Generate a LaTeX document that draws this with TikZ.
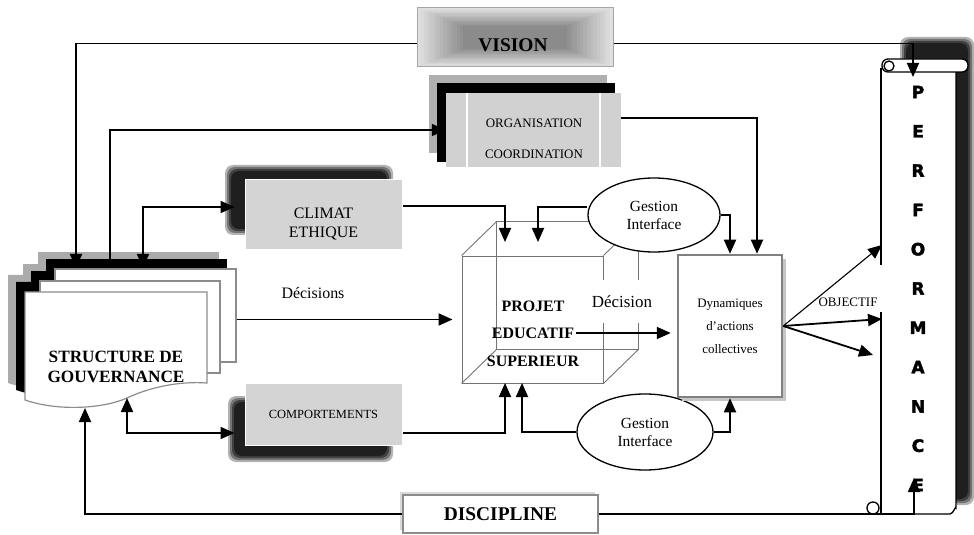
\documentclass[tikz,border=0pt]{standalone}
\usepackage{fontspec}
\setmainfont{Liberation Serif}
\newfontfamily\perffont[FakeBold=2.5]{DejaVu Sans}
\usetikzlibrary{arrows.meta,shapes.geometric,calc}

\tikzset{
  arr/.style={line width=1.8bp,-{Triangle[length=14bp,width=12bp]}},
  darr/.style={line width=1.8bp,{Triangle[length=14bp,width=12bp]}-{Triangle[length=14bp,width=12bp]}},
  thinarr/.style={line width=1.1bp,-{Triangle[length=14bp,width=12bp]}},
  graybox/.style={rectangle,fill=black!17,draw=white,line width=1bp,inner sep=0pt},
  edgecube/.style={draw=black!55,line width=0.9bp},
  docpage/.style={fill=white,draw=black!45,line width=1.2bp},
  gestion/.style={ellipse,draw=black,line width=1.3bp,fill=white,align=center,
    font=\fontsize{15.5}{18}\selectfont,inner sep=0pt},
  perfletter/.style={font=\perffont\bfseries\fontsize{17}{17}\selectfont,inner sep=0pt},
}

% soft black shadow behind a box
\newcommand{\softshadow}[2]{%
  \foreach \o/\c in {0/30,2/55,4/75,6/88}
    \fill[black!\c,rounded corners=8bp] ($#1+(\o,\o)$) rectangle ($#2+(-\o,-\o)$);
}

\begin{document}
\begin{tikzpicture}[x=1bp,y=-1bp]
  \useasboundingbox (0,0) rectangle (974,535);

  % vision
  \foreach \i [evaluate=\i as \c using 12+2.4*\i] in {0,...,14}
    \fill[black!\c] ({417+3.3*\i},{8+1.3*\i}) rectangle ({613-3.3*\i},{67-1.3*\i});
  \node[draw=black!35,line width=1bp,minimum width=196bp,minimum height=59bp] (vision) at (515,37.5) {};
  \node[font=\bfseries\fontsize{19.5}{20}\selectfont] (visiontxt) at (513,45) {VISION};

  % organisation / coordination
  \fill[black!31] (429,75) rectangle (607,153);
  \fill[black] (437,83) rectangle (615,162);
  \node[rectangle,fill=black!18,minimum width=175bp,minimum height=74bp,inner sep=0pt] (org) at (533.5,130) {};
  \draw[white,line width=1.5bp] (467,93) -- (467,167) (600,93) -- (600,167);
  \node[align=center,font=\fontsize{13}{31}\selectfont] (orgtxt) at (534,139) {ORGANISATION\\COORDINATION};

  % climat / comportements
  \softshadow{(225,165)}{(393,235)}
  \node[graybox,minimum width=157bp,minimum height=70bp] (climat) at (323.5,215) {};
  \node[align=center,font=\fontsize{16}{19}\selectfont] (climattxt) at (323.5,224) {CLIMAT\\ETHIQUE};
  \softshadow{(228,396)}{(393,462)}
  \node[graybox,minimum width=157bp,minimum height=62bp,font=\fontsize{12.5}{14}\selectfont] (comp) at (323.5,414) {COMPORTEMENTS};

  % structure de gouvernance
  \foreach \dx/\dy/\col in {-17/-17/black!33,-9/-10/black}{
    \fill[\col] ({55+\dx},{269+\dy}) rectangle ({236+\dx},{362+\dy});
    \fill[\col] ({40+\dx},{281+\dy}) rectangle ({220+\dx},{373+\dy});
    \fill[\col,shift={(\dx,\dy)}] (25,292) -- (207,292) -- (207,383) .. controls (180,381) and (150,387) .. (127,398)
      .. controls (105,408) and (60,412) .. (25,400) -- cycle;
  }
  \node[docpage,minimum width=181bp,minimum height=93bp,inner sep=0pt] (gouv) at (145.5,315.5) {};
  \node[docpage,minimum width=180bp,minimum height=92bp,inner sep=0pt] (gouvmid) at (130,327) {};
  \draw[docpage] (25,292) -- (207,292) -- (207,383) .. controls (180,381) and (150,387) .. (127,398)
    .. controls (105,408) and (60,412) .. (25,400) -- cycle;
  \node[align=center,font=\bfseries\fontsize{17.3}{20}\selectfont] (gouvtxt) at (116,367) {STRUCTURE DE\\GOUVERNANCE};

  \coordinate (gtopA) at (76,268);
  \coordinate (gtopB) at (110,268);
  \coordinate (gtopC) at (143,268);
  \coordinate (gbotA) at (85,408);
  \coordinate (gbotB) at (127,398);

  % projet educatif superieur
  \node[edgecube,minimum width=141bp,minimum height=127bp,inner sep=0pt] (cube) at (532.5,319.5) {};
  \draw[edgecube] ($(cube.north west)+(35,-34)$) rectangle ($(cube.south east)+(35,-34)$);
  \foreach \a in {north west,north east,south west,south east}
    \draw[edgecube] (cube.\a) -- ++(35,-34);
  \node[fill=white,minimum height=43bp,inner sep=1bp,font=\fontsize{17}{18}\selectfont] (decision) at (622,301.5) {Décision};
  \node[font=\bfseries\fontsize{16}{17}\selectfont] (projet) at (533,306) {PROJET};
  \node[font=\bfseries\fontsize{16}{17}\selectfont,inner sep=2bp] (educ) at (533,333) {EDUCATIF};
  \node[font=\bfseries\fontsize{16}{17}\selectfont] (sup) at (533,361) {SUPERIEUR};

  \coordinate (cubeinA) at (505,242);
  \coordinate (cubeinB) at (538,242);
  \coordinate (cubeinC) at (505,383);
  \coordinate (cubeinD) at (522,383);

  % gestion interface
  \node[gestion,minimum width=132bp,minimum height=74bp] (gestA) at (654,215) {Gestion\\Interface};
  \node[gestion,minimum width=136bp,minimum height=76bp] (gestB) at (645,432) {Gestion\\Interface};

  % dynamiques
  \fill[black!22] (682,259) rectangle (786,401);
  \node[draw=black!50,line width=2.5bp,fill=white,minimum width=104bp,minimum height=142bp,inner sep=0pt] (dyn) at (730,326) {};
  \node[align=center,font=\fontsize{13}{23}\selectfont] (dyntxt) at (730,326) {Dynamiques\\d’actions\\collectives};

  % performance
  \softshadow{(900,37)}{(974,505)}
  \fill[white] (881,72) rectangle (956,514);
  \draw[line width=1.3bp] (881,68) -- (881,514);
  \draw[line width=1.3bp] (868,514) -- (950,514) to[out=0,in=90] (956,508) -- (956,72);
  \draw[line width=1.3bp,fill=white,rounded corners=6bp] (882,59) rectangle (968,72);
  \draw[line width=1.3bp] (889,66) circle (5bp);
  \draw[line width=1.3bp,fill=white] (873,508) circle (6bp);
  \fill[white] (877,265) rectangle (885,312);
  \foreach \l [count=\i from 0] in {P,E,R,F,O,R,M,A,N,C,E}
    \node[perfletter] (perf\i) at (918,{92+39.3*\i}) {\l};
  \coordinate (perftop) at (913,77);
  \coordinate (perfbot) at (914,478);
  \coordinate (objA) at (882,245);
  \coordinate (objB) at (882,319);
  \coordinate (objC) at (873,355);
  \node[font=\fontsize{13}{14}\selectfont,inner sep=1bp] (objectif) at (848,302) {OBJECTIF};

  % discipline
  \fill[black!15] (400,492) rectangle (595,530);
  \node[draw=black!45,line width=1.2bp,fill=white,minimum width=195bp,minimum height=38bp,
    font=\bfseries\fontsize{19.5}{20}\selectfont] (disc) at (500.5,514) {DISCIPLINE};

  % liaisons
  \draw[arr] ($(vision.west)+(0,6)$) -| (gtopA);
  \draw[arr] ($(vision.east)+(0,6)$) -| (perftop);
  \draw[arr] (gtopB) |- (org.west);
  \draw[arr] ($(org.east)+(0,-12)$) -| ($(dyn.north)+(27,0)$);
  \draw[darr,shorten >=10bp] (gtopC) |- ($(climat.west)+(0,-8)$);
  \draw[arr] ($(climat.east)+(0,-9)$) -| (cubeinA);
  \draw[darr,shorten >=10bp] (gbotB) |- ($(comp.west)+(0,19)$);
  \draw[arr] ($(comp.east)+(0,19)$) -| (cubeinC);
  \draw[arr,shorten >=9bp] (gouv.east |- cube.west) -- (cube.west);
  \node[font=\fontsize{16}{17}\selectfont] (decisions) at (313,293) {Décisions};
  \draw[arr] ($(gestA.west)+(0,-8)$) -| (cubeinB);
  \draw[arr] (gestA.east) -| (dyn.north);
  \draw[arr] (gestB.west) -| (cubeinD);
  \draw[arr] (gestB.east) -| (dyn.south);
  \draw[arr,shorten >=6bp] (educ.east) -- (educ.east -| dyn.west);
  \draw[thinarr] (dyn.east) -- (objA);
  \draw[arr] (dyn.east) -- (objB);
  \draw[arr] (dyn.east) -- (objC);
  \draw[arr] (disc.west) -| (gbotA);
  \draw[arr] (disc.east) -| (perfbot);
\end{tikzpicture}
\end{document}
